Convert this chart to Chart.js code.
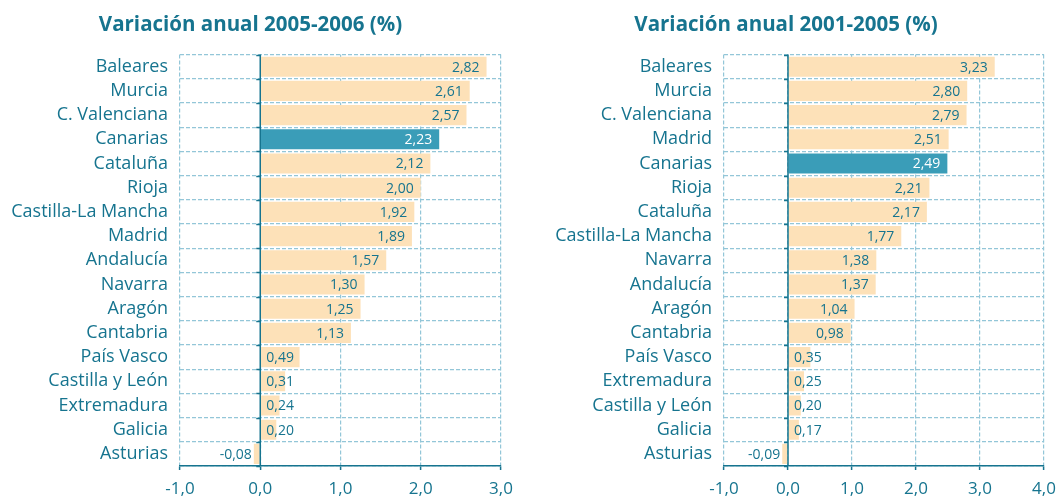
<!DOCTYPE html>
<html><head><meta charset="utf-8">
<script src="https://cdn.jsdelivr.net/npm/chart.js@4.4.1/dist/chart.umd.min.js"></script>
<style>
html,body{margin:0;padding:0;background:#fff;}
#wrap{position:relative;width:1057px;height:499px;}
.box{position:absolute;top:0;height:499px;}
</style></head><body>
<div id="wrap">
<div class="box" style="left:0;width:528px"><canvas id="c1"></canvas></div>
<div class="box" style="left:528px;width:529px"><canvas id="c2"></canvas></div>
</div>
<script>
const title1 = "Variación anual 2005-2006 (%)";
const cats1 = ["Baleares","Murcia","C. Valenciana","Canarias","Cataluña","Rioja","Castilla-La Mancha","Madrid","Andalucía","Navarra","Aragón","Cantabria","País Vasco","Castilla y León","Extremadura","Galicia","Asturias"];
const vals1 = [2.82,2.61,2.57,2.23,2.12,2.00,1.92,1.89,1.57,1.30,1.25,1.13,0.49,0.31,0.24,0.20,-0.08];
const ticks1 = [-1,0,1,2,3];

const title2 = "Variación anual 2001-2005 (%)";
const cats2 = ["Baleares","Murcia","C. Valenciana","Madrid","Canarias","Rioja","Cataluña","Castilla-La Mancha","Navarra","Andalucía","Aragón","Cantabria","País Vasco","Extremadura","Castilla y León","Galicia","Asturias"];
const vals2 = [3.23,2.80,2.79,2.51,2.49,2.21,2.17,1.77,1.38,1.37,1.04,0.98,0.35,0.25,0.20,0.17,-0.09];
const ticks2 = [-1,0,1,2,3,4];

const highlight = "Canarias";
const TEAL = "#16748f";
const GRID = "#93c6d8";
const BAR = "#fde1b8";
const HBAR = "#3a9db8";
const FONT = "'Open Sans', 'Noto Sans', sans-serif";

const fmt = v => v.toFixed(2).replace('.', ',');
const fmtTick = v => v.toFixed(1).replace('.', ',');

const labelPlugin = {
  id: 'vlabels',
  afterDatasetsDraw(chart) {
    const ctx = chart.ctx;
    const xs = chart.scales.x;
    const x0 = xs.getPixelForValue(0);
    const area = chart.chartArea;
    ctx.save();
    ctx.strokeStyle = TEAL;
    ctx.lineWidth = 1.5;
    ctx.beginPath();
    ctx.moveTo(x0, area.top);
    ctx.lineTo(x0, area.bottom);
    ctx.stroke();
    const n = chart.data.labels.length;
    const step = (area.bottom - area.top) / n;
    for (let i = 0; i <= n; i++) {
      const y = Math.round(area.top + i * step) + 0.5;
      ctx.beginPath();
      ctx.moveTo(x0 - 4, y);
      ctx.lineTo(x0, y);
      ctx.stroke();
    }
    const meta = chart.getDatasetMeta(0);
    const data = chart.data.datasets[0].data;
    ctx.font = "14px " + FONT;
    ctx.textBaseline = 'middle';
    meta.data.forEach((el, i) => {
      const v = data[i];
      const txt = fmt(v);
      const w = ctx.measureText(txt).width;
      ctx.fillStyle = chart.data.labels[i] === highlight ? '#ffffff' : TEAL;
      ctx.textAlign = 'right';
      if (v >= 0) {
        const xr = Math.max(el.x - 7, x0 + 6 + w);
        ctx.fillText(txt, xr, el.y + 1);
      } else {
        ctx.fillText(txt, el.x - 2, el.y + 1);
      }
    });
    ctx.restore();
  }
};

function makeChart(id, title, cats, vals, ticks, yWidth, padRight) {
  return new Chart(document.getElementById(id), {
    type: 'bar',
    data: {
      labels: cats,
      datasets: [{
        data: vals,
        backgroundColor: cats.map(c => c === highlight ? HBAR : BAR),
        borderWidth: 0,
        barPercentage: 0.83,
        categoryPercentage: 1.0
      }]
    },
    options: {
      indexAxis: 'y',
      responsive: true,
      maintainAspectRatio: false,
      animation: false,
      layout: { padding: { top: 5, right: padRight, left: 0, bottom: 0 } },
      plugins: {
        legend: { display: false },
        tooltip: { enabled: false },
        title: {
          display: true,
          text: title,
          color: TEAL,
          font: { family: FONT, size: 20.5, weight: 'bold' },
          padding: { top: 8, bottom: 17 }
        }
      },
      scales: {
        x: {
          type: 'linear',
          min: ticks[0],
          max: ticks[ticks.length - 1],
          afterBuildTicks: s => { s.ticks = ticks.map(v => ({ value: v })); },
          afterFit: s => { s.height = 33; s.paddingRight = 0; s.paddingLeft = 0; },
          ticks: {
            color: TEAL,
            font: { family: FONT, size: 17 },
            padding: 9,
            maxRotation: 0,
            callback: v => fmtTick(v)
          },
          grid: {
            color: GRID,
            lineWidth: 1.2,
            tickColor: TEAL,
            tickLength: 4,
            tickWidth: 1.5,
            tickBorderDash: []
          },
          border: { display: true, color: TEAL, width: 1.5, dash: [4, 2] }
        },
        y: {
          type: 'category',
          offset: true,
          afterFit: s => { s.width = yWidth; },
          ticks: {
            color: TEAL,
            font: { family: FONT, size: 18 },
            padding: 12,
            autoSkip: false
          },
          grid: {
            color: GRID,
            lineWidth: 1.2,
            offset: true,
            drawTicks: false
          },
          border: { display: false, dash: [4, 2] }
        }
      }
    },
    plugins: [labelPlugin]
  });
}

makeChart('c1', title1, cats1, vals1, ticks1, 180, 27);
makeChart('c2', title2, cats2, vals2, ticks2, 196, 13);
</script>
</body></html>
